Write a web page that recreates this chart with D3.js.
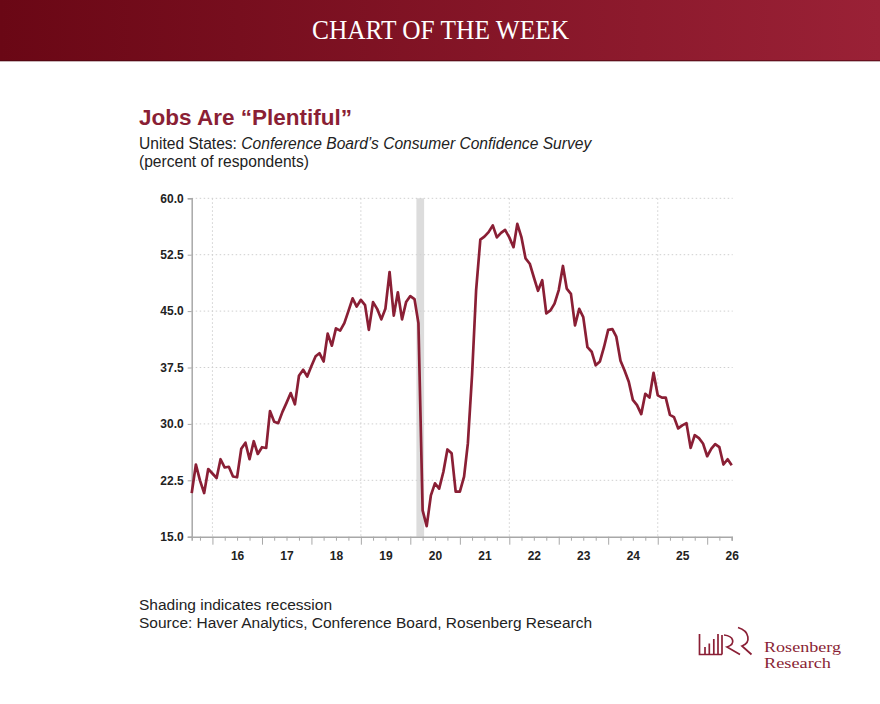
<!DOCTYPE html>
<html><head><meta charset="utf-8">
<script src="https://cdn.jsdelivr.net/npm/d3@7"></script>
<style>body{margin:0;background:#fff}</style>
</head><body>
<svg id="c" width="880" height="704"></svg>
<script>
// ---- data ----
const startMonth = "2015-08";
const values = [
 20.8,24.6,22.5,20.8,24.0,23.4,22.8,25.3,24.2,24.3,23.0,22.9,
 26.7,27.5,25.3,27.7,26.0,26.9,26.8,31.7,30.3,30.1,31.6,32.8,
 34.1,32.6,36.4,37.2,36.3,37.7,39.0,39.4,38.3,42.0,40.4,42.7,
 42.4,43.4,45.0,46.7,45.6,46.5,45.8,42.5,46.2,45.3,43.9,45.3,
 50.2,44.4,47.5,43.9,46.2,47.0,46.6,43.4,18.5,16.4,20.5,22.1,
 21.4,23.6,26.6,26.1,21.0,21.0,23.0,27.4,36.5,47.8,54.5,54.9,
 55.5,56.4,54.8,55.4,55.8,54.8,53.5,56.6,54.8,52.0,51.3,49.5,
 47.7,49.1,44.7,45.1,46.0,47.8,51.0,48.0,47.3,43.1,45.3,44.2,
 40.2,39.6,37.8,38.3,40.2,42.5,42.6,41.6,38.4,37.1,35.6,33.2,
 32.5,31.3,34.0,33.5,36.8,33.8,33.5,33.5,31.2,30.9,29.4,29.8,
 30.1,26.8,28.5,28.1,27.4,25.7,26.7,27.3,26.9,24.6,25.3,24.5
];
const yTicks = [15, 22.5, 30, 37.5, 45, 52.5, 60];
const yearLabels = ["16","17","18","19","20","21","22","23","24","25","26"];
const gridYears = [2016, 2019, 2022, 2025];
const recession = ["2020-02-15", "2020-04-12"];

// ---- build ----
const parseM = d3.timeParse("%Y-%m");
const d0 = parseM(startMonth);
const series = values.map((v, i) => ({date: d3.timeMonth.offset(d0, i), value: v}));

const svg = d3.select("#c");
const RED = "#8a1f35";
const SANS = "'Liberation Sans',Arial,sans-serif";
const SERIF = "'Liberation Serif','Times New Roman',serif";
const L = 191.7, R = 731.7, T = 198.3, B = 536.7;

// header
const defs = svg.append("defs");
const g = defs.append("linearGradient").attr("id","hg").attr("x1","0").attr("x2","1").attr("y1","0").attr("y2","0");
g.append("stop").attr("offset","0").attr("stop-color","#6a0715");
g.append("stop").attr("offset","1").attr("stop-color","#9a2136");
svg.append("rect").attr("x",0).attr("y",0).attr("width",880).attr("height",61).attr("fill","url(#hg)");
svg.append("rect").attr("x",0).attr("y",60).attr("width",880).attr("height",1.5).attr("fill","#4a0610").attr("opacity",0.6);
svg.append("text").attr("x",312).attr("y",39)
  .attr("font-family",SERIF).attr("font-size",26.5)
  .attr("textLength",257).attr("lengthAdjust","spacingAndGlyphs")
  .attr("fill","#fff").text("CHART OF THE WEEK");

// titles
svg.append("text").attr("x",139).attr("y",125)
  .attr("font-family",SANS).attr("font-weight","bold")
  .attr("font-size",22).attr("textLength",213).attr("lengthAdjust","spacingAndGlyphs")
  .attr("fill",RED).text("Jobs Are “Plentiful”");
const st = svg.append("text").attr("x",139).attr("y",148.5)
  .attr("font-family",SANS).attr("font-size",15.6).attr("fill","#222");
st.append("tspan").text("United States: ");
st.append("tspan").attr("font-style","italic").text("Conference Board’s Consumer Confidence Survey");
svg.append("text").attr("x",139).attr("y",167)
  .attr("font-family",SANS).attr("font-size",15.6).attr("fill","#222")
  .text("(percent of respondents)");

// scales
const x = d3.scaleTime().domain([series[0].date, series[series.length-1].date]).range([L, R]);
const y = d3.scaleLinear().domain([15, 60]).range([B, T]);

// recession
svg.append("rect")
  .attr("x", x(new Date(recession[0]))).attr("y", T)
  .attr("width", x(new Date(recession[1])) - x(new Date(recession[0])))
  .attr("height", B - T).attr("fill","#dcdcdc");

// grid
const grid = svg.append("g").attr("stroke","#cfcfcf").attr("stroke-width",1).attr("stroke-dasharray","1.5,2.5");
grid.selectAll(".h").data(yTicks.filter(t => t > 15)).enter().append("line")
  .attr("x1", L).attr("x2", R + 1).attr("y1", d => y(d)).attr("y2", d => y(d));
grid.selectAll(".v").data(gridYears).enter().append("line")
  .attr("x1", d => x(new Date(d,0,1))).attr("x2", d => x(new Date(d,0,1)))
  .attr("y1", T).attr("y2", B);

// y axis
const yAxis = svg.append("g").attr("transform",`translate(${L},0)`)
  .call(d3.axisLeft(y).tickValues(yTicks).tickSize(4).tickPadding(4).tickFormat(d3.format(".1f")));
yAxis.select(".domain").attr("stroke","#a8a8a8").attr("stroke-width",1.5);
yAxis.selectAll(".tick line").attr("stroke","#a8a8a8");
yAxis.selectAll("text").attr("font-family",SANS)
  .attr("font-weight","bold").attr("font-size",12).attr("fill","#222");

// x axis: quarter minor ticks, year major ticks, mid-year labels
const quarters = d3.timeMonth.every(3).range(new Date(2015,9,1), new Date(2026,7,1))
  .filter(d => d.getMonth() !== 0 && d >= x.domain()[0] && d <= x.domain()[1]);
const years = d3.range(2016, 2027).map(yy => new Date(yy,0,1));
const xMinor = svg.append("g").attr("transform",`translate(0,${B})`)
  .call(d3.axisBottom(x).tickValues(quarters).tickSize(4).tickFormat(""));
xMinor.select(".domain").attr("stroke","#a8a8a8").attr("stroke-width",1.5);
xMinor.selectAll(".tick line").attr("stroke","#a8a8a8");
const xMajor = svg.append("g").attr("transform",`translate(0,${B})`)
  .call(d3.axisBottom(x).tickValues(years).tickSize(8).tickFormat(""));
xMajor.select(".domain").remove();
xMajor.selectAll(".tick line").attr("stroke","#a8a8a8");
const mids = yearLabels.map(s => new Date(2000 + +s, 6, 1));
const xLab = svg.append("g").attr("transform",`translate(0,${B})`)
  .call(d3.axisBottom(x).tickValues(mids).tickSize(0).tickPadding(15).tickFormat((d,i) => yearLabels[i]));
xLab.select(".domain").remove();
xLab.selectAll("text").attr("font-family",SANS)
  .attr("font-weight","bold").attr("font-size",12).attr("fill","#222");

// line
svg.append("path").datum(series)
  .attr("fill","none").attr("stroke",RED).attr("stroke-width",2.7).attr("stroke-linejoin","round")
  .attr("d", d3.line().x(d => x(d.date)).y(d => y(d.value)));

// footer
svg.append("text").attr("x",139).attr("y",610)
  .attr("font-family",SANS).attr("font-size",15.5).attr("fill","#222")
  .text("Shading indicates recession");
svg.append("text").attr("x",139).attr("y",628)
  .attr("font-family",SANS).attr("font-size",15.5).attr("fill","#222")
  .attr("textLength",453).attr("lengthAdjust","spacingAndGlyphs")
  .text("Source: Haver Analytics, Conference Board, Rosenberg Research");

// logo
const lg = svg.append("g").attr("stroke",RED).attr("fill","none").attr("stroke-width",1.7);
lg.append("path").attr("d","M699.5,634 V654.5 H722");
[[705,647],[709.3,643.5],[713.8,639],[718,634]].forEach(([bx,by]) =>
  lg.append("path").attr("d",`M${bx},${by} V654.5`));
lg.append("path").attr("d","M722,635 V654.5");
lg.append("path").attr("d","M724,635 C734,636 736,644 727,647 L740,654.5");
lg.append("path").attr("d","M738,627.5 C750,631 751,643 742,646 L751.5,654.5");
svg.append("text").attr("x",764).attr("y",651.5)
  .attr("font-family",SERIF).attr("font-size",15)
  .attr("textLength",77).attr("lengthAdjust","spacingAndGlyphs").attr("fill",RED)
  .text("Rosenberg");
svg.append("text").attr("x",764).attr("y",667.5)
  .attr("font-family",SERIF).attr("font-size",15)
  .attr("textLength",67).attr("lengthAdjust","spacingAndGlyphs").attr("fill",RED)
  .text("Research");
</script>
</body></html>
